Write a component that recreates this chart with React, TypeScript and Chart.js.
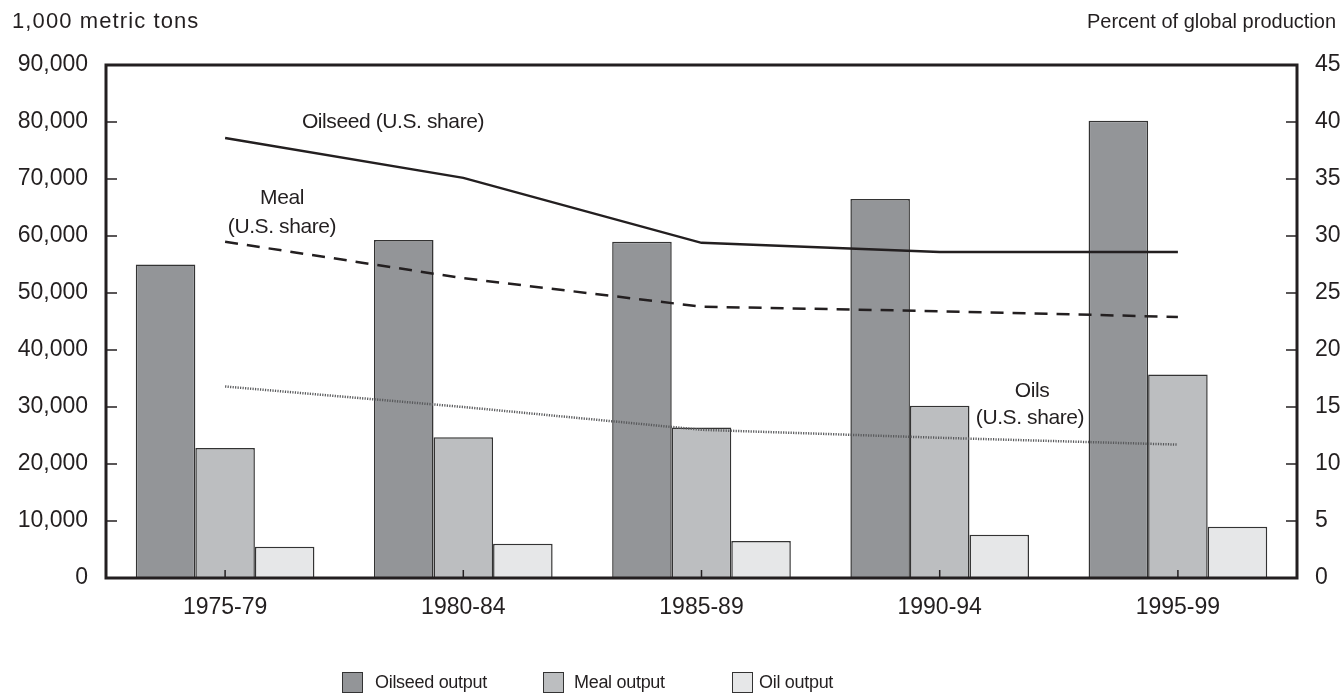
import React, { useEffect, useRef } from "react";
import { Chart, registerables } from "chart.js";

Chart.register(...registerables);

const periods = ["1975-79", "1980-84", "1985-89", "1990-94", "1995-99"];
const oilseedOutput = [55000, 59300, 59000, 66500, 80200];
const mealOutput = [22800, 24700, 26400, 30200, 35700];
const oilOutput = [5500, 6000, 6500, 7600, 9000];
const oilseedShare = [38.6, 35.1, 29.4, 28.6, 28.6];
const mealShare = [29.5, 26.3, 23.8, 23.4, 22.9];
const oilsShare = [16.8, 15.0, 13.0, 12.3, 11.7];
const leftMax = 90000;
const leftStep = 10000;
const rightMax = 45;
const rightStep = 5;

const FONT = '"Liberation Sans", Arial, Helvetica, sans-serif';
const INK = "#231f20";

export default function App() {
  const ref = useRef<HTMLCanvasElement | null>(null);

  useEffect(() => {
    document.body.style.margin = "0";
    const canvas = ref.current;
    if (!canvas) return;

    const overlay = {
      id: "overlay",
      afterDatasetsDraw(chart: any) {
        const { ctx, chartArea: a, scales } = chart;
        ctx.save();
        ctx.strokeStyle = INK;
        ctx.lineWidth = 1.5;
        const seg = (x1: number, y1: number, x2: number, y2: number) => {
          ctx.beginPath();
          ctx.moveTo(x1, y1);
          ctx.lineTo(x2, y2);
          ctx.stroke();
        };
        scales.y.ticks.forEach((t: any) => {
          const y = scales.y.getPixelForValue(t.value);
          seg(a.left, y, a.left + 11, y);
        });
        scales.y1.ticks.forEach((t: any) => {
          const y = scales.y1.getPixelForValue(t.value);
          seg(a.right - 11, y, a.right, y);
        });
        periods.forEach((_, i) => {
          const x = scales.x.getPixelForValue(i);
          seg(x, a.bottom, x, a.bottom - 8);
        });
        // frame
        ctx.lineWidth = 3;
        ctx.strokeRect(a.left, a.top, a.right - a.left, a.bottom - a.top);

        // texts
        ctx.fillStyle = INK;
        ctx.textBaseline = "middle";
        (ctx as any).letterSpacing = "1.1px";
        ctx.font = `22px ${FONT}`;
        ctx.textAlign = "left";
        ctx.fillText("1,000 metric tons", 12, 22);
        (ctx as any).letterSpacing = "0px";
        ctx.font = `20px ${FONT}`;
        ctx.textAlign = "right";
        ctx.fillText("Percent of global production", 1336, 22);

        (ctx as any).letterSpacing = "-0.4px";
        ctx.font = `21px ${FONT}`;
        ctx.textAlign = "center";
        ctx.fillText("Oilseed (U.S. share)", 393, 122);
        ctx.fillText("Meal", 282, 198);
        ctx.fillText("(U.S. share)", 282, 227);
        ctx.fillText("Oils", 1032, 391);
        ctx.fillText("(U.S. share)", 1030, 418);

        // legend
        const items = [
          { label: "Oilseed output", box: 342, text: 375 },
          { label: "Meal output", box: 543, text: 574 },
          { label: "Oil output", box: 732, text: 759 },
        ];
        ctx.font = `18px ${FONT}`;
        ctx.textAlign = "left";
        (ctx as any).letterSpacing = "-0.3px";
        items.forEach((it, i) => {
          const ds = chart.data.datasets[i];
          ctx.fillStyle = ds.backgroundColor;
          ctx.fillRect(it.box, 672, 20, 20);
          ctx.lineWidth = 1;
          ctx.strokeStyle = "#333";
          ctx.strokeRect(it.box + 0.5, 672.5, 20, 20);
          ctx.fillStyle = INK;
          ctx.fillText(it.label, it.text, 683);
        });
        ctx.restore();
      },
    };

    const barCommon = {
      type: "bar",
      borderColor: "#333333",
      borderWidth: 1.5,
      yAxisID: "y",
      order: 2,
      categoryPercentage: 0.75,
      barPercentage: 1.0,
    };
    const lineCommon = {
      type: "line",
      pointRadius: 0,
      tension: 0,
      fill: false,
      yAxisID: "y1",
      order: 0,
    };

    const chart = new Chart(canvas, {
      type: "bar",
      data: {
        labels: periods,
        datasets: [
          { ...barCommon, label: "Oilseed output", data: oilseedOutput, backgroundColor: "#939598" },
          { ...barCommon, label: "Meal output", data: mealOutput, backgroundColor: "#bcbec0" },
          { ...barCommon, label: "Oil output", data: oilOutput, backgroundColor: "#e6e7e8" },
          { ...lineCommon, label: "Oilseed (U.S. share)", data: oilseedShare, borderColor: INK, borderWidth: 2.5 },
          {
            ...lineCommon,
            label: "Meal (U.S. share)",
            data: mealShare,
            borderColor: INK,
            borderWidth: 2.5,
            borderDash: [13, 9],
          },
          {
            ...lineCommon,
            label: "Oils (U.S. share)",
            data: oilsShare,
            borderColor: "#58595b",
            borderWidth: 2.5,
            borderDash: [1.2, 1.3],
          },
        ],
      } as any,
      options: {
        animation: false,
        responsive: true,
        maintainAspectRatio: false,
        layout: { padding: { top: 65, left: 0, right: 0, bottom: 0 } },
        plugins: {
          legend: { display: false },
          tooltip: { enabled: false },
        },
        scales: {
          x: {
            type: "category",
            offset: true,
            grid: { display: false, drawTicks: false },
            border: { display: false },
            ticks: {
              color: INK,
              padding: 16,
              font: { family: FONT, size: 23 },
            },
            afterFit(scale: any) {
              scale.height = 116;
            },
          },
          y: {
            position: "left",
            min: 0,
            max: leftMax,
            grid: { display: false, drawTicks: false },
            border: { display: false },
            ticks: {
              stepSize: leftStep,
              color: INK,
              padding: 18,
              font: { family: FONT, size: 23 },
              callback: (v: any) => Number(v).toLocaleString("en-US"),
            },
            afterFit(scale: any) {
              scale.width = 106;
            },
          },
          y1: {
            position: "right",
            min: 0,
            max: rightMax,
            grid: { display: false, drawTicks: false },
            border: { display: false },
            ticks: {
              stepSize: rightStep,
              color: INK,
              padding: 18,
              font: { family: FONT, size: 23 },
            },
            afterFit(scale: any) {
              scale.width = 46;
            },
          },
        },
      } as any,
      plugins: [overlay],
    });

    return () => {
      chart.destroy();
    };
  }, []);

  return (
    <div style={{ width: "1343px", height: "694px", position: "relative" }}>
      <canvas ref={ref} />
    </div>
  );
}
